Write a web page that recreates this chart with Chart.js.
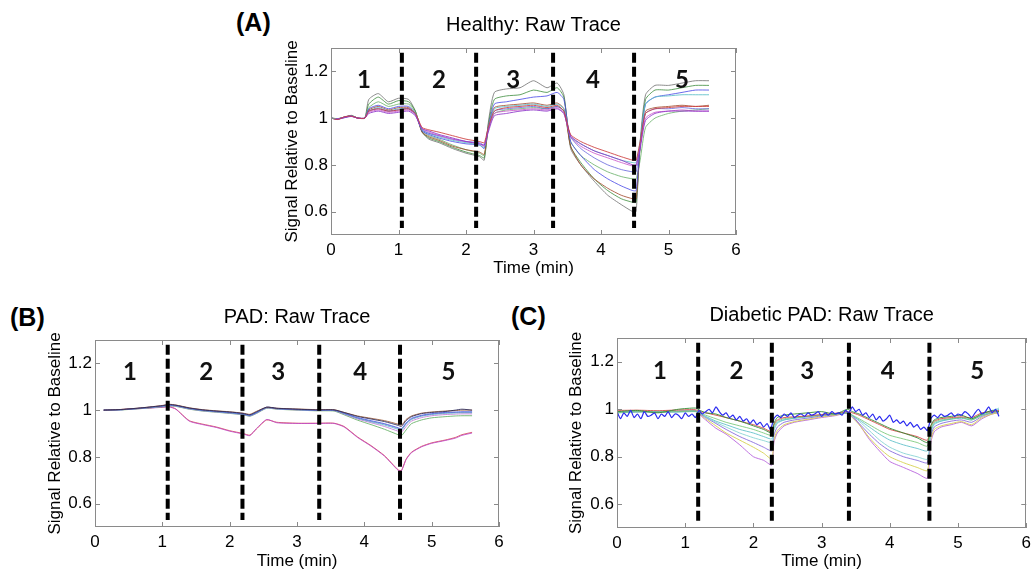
<!DOCTYPE html>
<html>
<head>
<meta charset="utf-8">
<script src="https://cdn.jsdelivr.net/npm/chart.js@4/dist/chart.umd.min.js"></script>
<style>
html, body { margin: 0; padding: 0; background: #fff; width: 1036px; height: 569px; overflow: hidden; }
canvas { position: absolute; }
.tag { position: absolute; font: 700 25px 'Liberation Sans', Arial, sans-serif; color: #000; line-height: 25px; }
</style>
</head>
<body>
<div class="tag" style="left:236px;top:10px">(A)</div>
<div class="tag" style="left:10px;top:305px">(B)</div>
<div class="tag" style="left:511px;top:304px">(C)</div>
<canvas id="chartA" width="470" height="282" style="left:278px;top:0px"></canvas>
<canvas id="chartB" width="470" height="285" style="left:41px;top:290px"></canvas>
<canvas id="chartC" width="474" height="285" style="left:562px;top:290px"></canvas>
<script>
// shared axis settings
const yTicks = [0.6, 0.8, 1, 1.2];
const regionNames = ['1', '2', '3', '4', '5'];
const dashTop = 1.28;
const dashBottom = 0.53;

// ---- (A) Healthy ----
const timeA = [0, 0.1, 0.2, 0.3, 0.4, 0.5, 0.56, 0.7, 0.85, 1.0, 1.15, 1.25, 1.35, 1.45, 1.6, 1.8, 2.0, 2.2, 2.27, 2.33, 2.42, 2.6, 2.8, 3.0, 3.2, 3.35, 3.45, 3.55, 3.7, 3.9, 4.1, 4.3, 4.47, 4.52, 4.58, 4.66, 4.8, 5.0, 5.2, 5.4, 5.6];
const healthyGray = [1.0, 0.995, 1.005, 1.01, 1.0, 1.0, 1.08, 1.105, 1.07, 1.085, 1.08, 1.03, 0.94, 0.91, 0.895, 0.87, 0.85, 0.835, 0.82, 0.98, 1.11, 1.125, 1.13, 1.16, 1.13, 1.15, 1.1, 0.87, 0.8, 0.73, 0.67, 0.63, 0.6, 0.6, 0.9, 1.1, 1.14, 1.14, 1.15, 1.16, 1.16];
const healthyGreen = [1.0, 0.998, 1.003, 1.012, 1.0, 1.0, 1.06, 1.09, 1.06, 1.075, 1.07, 1.03, 0.94, 0.915, 0.9, 0.875, 0.855, 0.84, 0.83, 0.97, 1.08, 1.095, 1.1, 1.12, 1.11, 1.13, 1.09, 0.88, 0.81, 0.74, 0.69, 0.655, 0.64, 0.64, 0.88, 1.08, 1.12, 1.12, 1.13, 1.14, 1.14];
const healthyBlue = [1.0, 0.997, 1.004, 1.008, 1.0, 1.0, 1.04, 1.055, 1.04, 1.05, 1.05, 1.02, 0.945, 0.93, 0.915, 0.9, 0.89, 0.885, 0.87, 0.96, 1.06, 1.07, 1.08, 1.09, 1.095, 1.11, 1.08, 0.9, 0.84, 0.78, 0.74, 0.71, 0.69, 0.69, 0.88, 1.06, 1.09, 1.1, 1.11, 1.12, 1.12];
const healthyCyan = [1.0, 0.996, 1.002, 1.01, 1.0, 1.0, 1.03, 1.045, 1.03, 1.04, 1.04, 1.02, 0.95, 0.935, 0.92, 0.905, 0.895, 0.885, 0.875, 0.96, 1.04, 1.05, 1.055, 1.06, 1.05, 1.06, 1.04, 0.92, 0.89, 0.86, 0.84, 0.82, 0.81, 0.81, 0.9, 1.06, 1.09, 1.095, 1.1, 1.1, 1.1];
const healthyRed = [1.0, 0.994, 1.006, 1.009, 1.0, 1.0, 1.03, 1.04, 1.03, 1.035, 1.04, 1.02, 0.96, 0.95, 0.94, 0.925, 0.91, 0.9, 0.895, 0.96, 1.03, 1.045, 1.05, 1.055, 1.045, 1.055, 1.03, 0.93, 0.9, 0.875, 0.855, 0.835, 0.82, 0.82, 0.9, 1.02, 1.04, 1.045, 1.05, 1.05, 1.05];
const healthyBrown = [1.0, 0.997, 1.004, 1.01, 1.0, 1.0, 1.035, 1.05, 1.035, 1.045, 1.045, 1.02, 0.94, 0.92, 0.905, 0.88, 0.865, 0.855, 0.845, 0.96, 1.045, 1.055, 1.06, 1.065, 1.055, 1.065, 1.04, 0.88, 0.8, 0.74, 0.7, 0.67, 0.655, 0.655, 0.88, 1.03, 1.045, 1.05, 1.055, 1.05, 1.055];
const healthyMagenta = [1.0, 0.996, 1.003, 1.008, 1.0, 1.0, 1.025, 1.035, 1.025, 1.03, 1.035, 1.015, 0.955, 0.94, 0.925, 0.91, 0.9, 0.89, 0.88, 0.95, 1.02, 1.03, 1.035, 1.04, 1.035, 1.045, 1.02, 0.92, 0.88, 0.85, 0.83, 0.81, 0.795, 0.795, 0.88, 1.0, 1.025, 1.03, 1.035, 1.03, 1.03];
const healthyPurple = [1.0, 0.995, 1.002, 1.007, 1.0, 1.0, 1.02, 1.03, 1.02, 1.025, 1.03, 1.01, 0.955, 0.945, 0.93, 0.915, 0.9, 0.89, 0.885, 0.94, 1.01, 1.02, 1.03, 1.035, 1.03, 1.04, 1.02, 0.925, 0.89, 0.86, 0.84, 0.82, 0.8, 0.8, 0.87, 0.99, 1.02, 1.03, 1.03, 1.03, 1.03];
const healthyLightGreen = [1.0, 0.998, 1.004, 1.01, 1.0, 1.0, 1.045, 1.07, 1.05, 1.06, 1.06, 1.025, 0.945, 0.925, 0.91, 0.885, 0.865, 0.85, 0.84, 0.95, 1.02, 1.035, 1.04, 1.045, 1.04, 1.05, 1.03, 0.9, 0.84, 0.8, 0.77, 0.75, 0.74, 0.74, 0.82, 0.96, 1.0, 1.02, 1.03, 1.035, 1.04];
const healthySlate = [1.0, 0.996, 1.005, 1.01, 1.0, 1.0, 1.03, 1.04, 1.03, 1.035, 1.04, 1.015, 0.95, 0.935, 0.925, 0.91, 0.9, 0.895, 0.885, 0.95, 1.03, 1.04, 1.045, 1.05, 1.04, 1.05, 1.03, 0.92, 0.87, 0.83, 0.8, 0.78, 0.77, 0.77, 0.88, 1.02, 1.04, 1.04, 1.045, 1.04, 1.04];
const dashA = [1.05, 2.15, 3.29, 4.49];
const regionXA = [0.49, 1.6, 2.7, 3.88, 5.2];

// ---- (B) PAD ----
const timeB = [0.13, 0.4, 0.7, 1.0, 1.1, 1.2, 1.4, 1.6, 1.8, 2.0, 2.2, 2.3, 2.4, 2.55, 2.7, 3.0, 3.3, 3.55, 3.7, 3.9, 4.1, 4.3, 4.5, 4.55, 4.62, 4.7, 4.85, 5.0, 5.2, 5.35, 5.45, 5.6];
const padBrown = [1.0, 1.003, 1.01, 1.02, 1.025, 1.022, 1.01, 1.002, 0.997, 0.993, 0.987, 0.982, 0.995, 1.012, 1.008, 1.005, 1.002, 1.002, 0.99, 0.975, 0.965, 0.955, 0.94, 0.935, 0.96, 0.975, 0.987, 0.992, 0.996, 0.998, 1.0, 1.0];
const padNavy = [1.0, 1.003, 1.01, 1.019, 1.024, 1.021, 1.009, 1.001, 0.996, 0.992, 0.986, 0.98, 0.993, 1.013, 1.008, 1.004, 1.001, 1.001, 0.99, 0.973, 0.962, 0.951, 0.935, 0.93, 0.955, 0.972, 0.985, 0.99, 0.994, 1.0, 1.004, 1.0];
const padBlue = [1.0, 1.002, 1.009, 1.018, 1.022, 1.02, 1.008, 1.0, 0.995, 0.99, 0.984, 0.978, 0.99, 1.012, 1.007, 1.003, 1.0, 1.0, 0.987, 0.968, 0.955, 0.942, 0.925, 0.92, 0.945, 0.965, 0.978, 0.985, 0.99, 0.992, 0.993, 0.993];
const padCyan = [1.0, 1.002, 1.008, 1.016, 1.02, 1.018, 1.006, 0.998, 0.993, 0.988, 0.982, 0.976, 0.988, 1.01, 1.006, 1.002, 0.999, 0.999, 0.985, 0.965, 0.95, 0.936, 0.918, 0.913, 0.94, 0.96, 0.974, 0.981, 0.986, 0.988, 0.989, 0.989];
const padViolet = [1.0, 1.002, 1.008, 1.015, 1.019, 1.017, 1.005, 0.997, 0.992, 0.987, 0.981, 0.975, 0.987, 1.009, 1.005, 1.001, 0.998, 0.998, 0.983, 0.962, 0.946, 0.93, 0.91, 0.905, 0.93, 0.953, 0.968, 0.976, 0.981, 0.983, 0.984, 0.984];
const padGreen = [1.0, 1.001, 1.007, 1.014, 1.018, 1.016, 1.004, 0.996, 0.991, 0.986, 0.98, 0.974, 0.986, 1.008, 1.004, 1.0, 0.997, 0.996, 0.98, 0.957, 0.938, 0.918, 0.895, 0.89, 0.915, 0.942, 0.958, 0.967, 0.972, 0.975, 0.976, 0.976];
const padSteel = [1.0, 1.002, 1.009, 1.017, 1.021, 1.019, 1.007, 0.999, 0.994, 0.989, 0.983, 0.977, 0.989, 1.011, 1.006, 1.002, 0.999, 0.999, 0.986, 0.966, 0.952, 0.94, 0.922, 0.917, 0.942, 0.962, 0.976, 0.983, 0.988, 0.99, 0.991, 0.991];
const padLowRed = [1.0, 1.003, 1.008, 1.013, 1.015, 1.005, 0.955, 0.94, 0.928, 0.912, 0.9, 0.893, 0.92, 0.958, 0.948, 0.944, 0.944, 0.944, 0.93, 0.885, 0.848, 0.805, 0.745, 0.742, 0.79, 0.82, 0.845, 0.86, 0.872, 0.883, 0.895, 0.905];
const padLowMagenta = [1.0, 1.002, 1.007, 1.012, 1.014, 1.004, 0.953, 0.938, 0.926, 0.91, 0.898, 0.891, 0.922, 0.96, 0.946, 0.943, 0.943, 0.943, 0.928, 0.883, 0.846, 0.803, 0.743, 0.74, 0.788, 0.818, 0.843, 0.858, 0.87, 0.88, 0.892, 0.902];
const dashB = [1.08, 2.19, 3.33, 4.53];
const regionXB = [0.52, 1.65, 2.72, 3.94, 5.25];

// ---- (C) Diabetic PAD ----
const timeC = [0, 0.3, 0.6, 0.9, 1.15, 1.22, 1.3, 1.45, 1.6, 1.8, 2.0, 2.15, 2.27, 2.3, 2.35, 2.45, 2.6, 2.8, 3.0, 3.2, 3.38, 3.45, 3.55, 3.7, 3.85, 4.0, 4.2, 4.4, 4.55, 4.6, 4.65, 4.75, 4.9, 5.05, 5.2, 5.35, 5.5, 5.6];
const diabRed = [0.995, 0.996, 0.994, 0.997, 0.998, 0.99, 0.985, 0.975, 0.965, 0.95, 0.935, 0.92, 0.905, 0.935, 0.955, 0.965, 0.968, 0.972, 0.978, 0.983, 0.99, 0.985, 0.975, 0.955, 0.935, 0.915, 0.9, 0.885, 0.87, 0.93, 0.95, 0.96, 0.965, 0.968, 0.965, 0.985, 0.99, 0.995];
const diabGreen = [0.99, 0.995, 0.985, 1.0, 1.005, 0.995, 0.985, 0.98, 0.965, 0.95, 0.93, 0.915, 0.9, 0.94, 0.965, 0.975, 0.98, 0.985, 0.99, 0.98, 1.0, 0.99, 0.98, 0.96, 0.94, 0.92, 0.9, 0.88, 0.86, 0.93, 0.955, 0.965, 0.97, 0.975, 0.96, 0.98, 0.995, 0.99];
const diabLightGreen = [0.985, 0.99, 0.988, 0.99, 0.992, 0.985, 0.975, 0.96, 0.945, 0.93, 0.915, 0.9, 0.89, 0.93, 0.95, 0.96, 0.965, 0.97, 0.975, 0.98, 0.985, 0.975, 0.96, 0.935, 0.91, 0.89, 0.875, 0.86, 0.845, 0.92, 0.945, 0.955, 0.96, 0.965, 0.955, 0.975, 0.985, 0.99];
const diabCyan = [0.985, 0.988, 0.99, 0.988, 0.99, 0.982, 0.97, 0.95, 0.935, 0.915, 0.9, 0.885, 0.875, 0.92, 0.945, 0.955, 0.962, 0.968, 0.975, 0.98, 0.985, 0.972, 0.955, 0.925, 0.895, 0.87, 0.85, 0.835, 0.825, 0.91, 0.94, 0.95, 0.958, 0.962, 0.955, 0.975, 0.99, 1.0];
const diabTeal = [0.99, 0.992, 0.99, 0.993, 0.995, 0.985, 0.968, 0.945, 0.925, 0.9, 0.88, 0.868, 0.86, 0.91, 0.94, 0.955, 0.962, 0.97, 0.976, 0.98, 0.99, 0.975, 0.95, 0.91, 0.87, 0.84, 0.815, 0.8, 0.79, 0.9, 0.935, 0.95, 0.96, 0.965, 0.96, 0.98, 0.995, 1.005];
const diabPurple = [0.99, 0.99, 0.988, 0.99, 0.992, 0.98, 0.965, 0.94, 0.915, 0.885, 0.86, 0.84, 0.825, 0.89, 0.925, 0.945, 0.955, 0.963, 0.972, 0.978, 0.985, 0.968, 0.94, 0.895, 0.855, 0.825, 0.8, 0.785, 0.775, 0.89, 0.925, 0.94, 0.95, 0.955, 0.945, 0.97, 0.985, 0.99];
const diabYellow = [0.99, 0.99, 0.99, 0.992, 0.993, 0.978, 0.96, 0.93, 0.9, 0.87, 0.84, 0.815, 0.79, 0.87, 0.91, 0.935, 0.948, 0.958, 0.968, 0.975, 0.985, 0.965, 0.935, 0.88, 0.835, 0.8, 0.775, 0.755, 0.742, 0.87, 0.915, 0.93, 0.94, 0.948, 0.935, 0.965, 0.98, 0.985];
const diabViolet = [0.99, 0.99, 0.99, 0.993, 0.994, 0.975, 0.955, 0.92, 0.895, 0.85, 0.8, 0.785, 0.765, 0.86, 0.9, 0.93, 0.945, 0.955, 0.965, 0.973, 0.985, 0.975, 0.937, 0.873, 0.824, 0.78, 0.755, 0.73, 0.71, 0.86, 0.905, 0.925, 0.935, 0.945, 0.93, 0.96, 0.98, 0.985];
// the noisy blue trace is sampled more finely
const timeCFine = [0, 0.05, 0.1, 0.15, 0.2, 0.25, 0.3, 0.35, 0.4, 0.45, 0.5, 0.55, 0.6, 0.65, 0.7, 0.75, 0.8, 0.85, 0.9, 0.95, 1.0, 1.05, 1.1, 1.15, 1.2, 1.25, 1.3, 1.35, 1.4, 1.45, 1.5, 1.55, 1.6, 1.65, 1.7, 1.75, 1.8, 1.85, 1.9, 1.95, 2.0, 2.05, 2.1, 2.15, 2.2, 2.25, 2.3, 2.35, 2.4, 2.45, 2.5, 2.55, 2.6, 2.65, 2.7, 2.75, 2.8, 2.85, 2.9, 2.95, 3.0, 3.05, 3.1, 3.15, 3.2, 3.25, 3.3, 3.35, 3.4, 3.45, 3.5, 3.55, 3.6, 3.65, 3.7, 3.75, 3.8, 3.85, 3.9, 3.95, 4.0, 4.05, 4.1, 4.15, 4.2, 4.25, 4.3, 4.35, 4.4, 4.45, 4.5, 4.55, 4.6, 4.65, 4.7, 4.75, 4.8, 4.85, 4.9, 4.95, 5.0, 5.05, 5.1, 5.15, 5.2, 5.25, 5.3, 5.35, 5.4, 5.45, 5.5, 5.55, 5.6];
const diabBlueNoisy = [
  0.99, 0.96, 0.985, 0.97, 0.995, 0.965, 0.98, 0.96, 0.99, 0.97, 0.975, 0.985, 0.96, 0.98, 0.97, 0.99, 0.965, 0.98, 0.975, 0.96, 0.985, 0.97, 0.98, 0.965,
  0.995, 0.98, 0.99, 1.0, 0.985, 1.01, 0.99,
  0.975, 0.985, 0.965, 0.975, 0.955, 0.97, 0.95, 0.96, 0.94, 0.955, 0.935, 0.945, 0.925, 0.94, 0.915,
  0.96, 0.975, 0.965, 0.98, 0.97, 0.985, 0.965, 0.975, 0.98, 0.97, 0.985, 0.975, 0.98, 0.99, 0.97, 0.985, 0.975, 0.99, 0.98, 0.985, 0.975, 0.995, 0.985,
  1.01, 0.99, 1.0, 0.975, 0.985, 0.965, 0.98, 0.955, 0.97, 0.95, 0.96, 0.975, 0.945, 0.955, 0.94, 0.95, 0.93, 0.945, 0.925, 0.935, 0.915, 0.925, 0.91,
  0.96, 0.975, 0.965, 0.98, 0.97, 0.975, 0.985, 0.97, 0.98, 0.975, 0.99, 0.98, 0.965, 0.985, 1.0, 0.98, 0.99, 1.01, 0.985, 1.0, 0.97
];
const dashC = [1.19, 2.27, 3.4, 4.58];
const regionXC = [0.63, 1.75, 2.79, 3.97, 5.28];
const regionY = 1.16;

const tickFont = { family: "'Liberation Sans', Arial, sans-serif", size: 17 };

// box around the plot with inward ticks, plus the bold region numbers
const framePlugin = {
    id: 'frame',
    afterDatasetsDraw(chart, args, opts) {
        const { ctx, chartArea: a, scales: { x, y } } = chart;
        ctx.save();
        ctx.strokeStyle = '#8a8a8a';
        ctx.lineWidth = 1;
        ctx.strokeRect(Math.round(a.left) + 0.5, Math.round(a.top) + 0.5, Math.round(a.width) - 1, Math.round(a.height) - 1);
        ctx.beginPath();
        x.ticks.forEach(t => {
            const px = Math.round(x.getPixelForValue(t.value)) + 0.5;
            ctx.moveTo(px, a.bottom); ctx.lineTo(px, a.bottom - 5);
            ctx.moveTo(px, a.top); ctx.lineTo(px, a.top + 5);
        });
        y.ticks.forEach(t => {
            const py = Math.round(y.getPixelForValue(t.value)) + 0.5;
            ctx.moveTo(a.left, py); ctx.lineTo(a.left + 5, py);
            ctx.moveTo(a.right, py); ctx.lineTo(a.right - 5, py);
        });
        ctx.stroke();
        ctx.fillStyle = '#111';
        ctx.font = "bold 24px Lato, 'Open Sans', sans-serif";
        ctx.textAlign = 'center';
        ctx.textBaseline = 'middle';
        opts.names.forEach((s, i) => {
            ctx.fillText(s, x.getPixelForValue(opts.xs[i]), y.getPixelForValue(regionY));
        });
        ctx.restore();
    }
};

function makePanel(id, p) {
    const datasets = [];
    p.dashes.forEach(v => {
        datasets.push({
            data: [{ x: v, y: dashTop }, { x: v, y: dashBottom }],
            borderColor: '#000', borderWidth: 4, borderDash: [10, 4],
            pointRadius: 0, order: -1
        });
    });
    p.series.forEach(s => {
        datasets.push({
            data: s.ys.map((v, i) => ({ x: s.xs[i], y: v })),
            borderColor: s.color, borderWidth: s.width || 1,
            pointRadius: 0, tension: 0.2
        });
    });
    return new Chart(document.getElementById(id), {
        type: 'line',
        data: { datasets },
        plugins: [framePlugin],
        options: {
            responsive: false,
            animation: false,
            layout: { padding: { left: 0, right: p.padRight, top: 0, bottom: 0 } },
            plugins: {
                legend: { display: false },
                tooltip: { enabled: false },
                title: {
                    display: true, text: p.title, fullSize: false, color: '#000',
                    font: { family: tickFont.family, size: 20, weight: 'normal' },
                    padding: { top: p.titleTop, bottom: p.titleBottom }
                },
                frame: { names: regionNames, xs: p.regionX }
            },
            scales: {
                x: {
                    type: 'linear', min: 0, max: 6,
                    grid: { display: false, drawTicks: false }, border: { display: false },
                    ticks: { stepSize: 1, color: '#000', font: tickFont, padding: 5, maxRotation: 0 },
                    title: { display: true, text: 'Time (min)', color: '#000', font: tickFont, padding: { top: 0, bottom: 3 } },
                    afterFit(scale) { scale.height = p.xAxisHeight; }
                },
                y: {
                    min: 0.5, max: 1.3,
                    grid: { display: false, drawTicks: false }, border: { display: false },
                    afterBuildTicks(scale) { scale.ticks = yTicks.map(v => ({ value: v })); },
                    ticks: { color: '#000', font: tickFont, padding: 3, callback: v => String(v) },
                    title: { display: true, text: 'Signal Relative to Baseline', color: '#000', font: tickFont, padding: { top: 4, bottom: 0 } },
                    afterFit(scale) { scale.width = p.yAxisWidth; }
                }
            }
        }
    });
}

makePanel('chartA', {
    title: 'Healthy: Raw Trace', titleTop: 13, titleBottom: 11,
    yAxisWidth: 53, xAxisHeight: 47, padRight: 12,
    dashes: dashA, regionX: regionXA,
    series: [
        { xs: timeA, ys: healthyRed, color: 'rgba(205,60,60,0.85)' },
        { xs: timeA, ys: healthyPurple, color: 'rgba(140,50,200,0.85)' },
        { xs: timeA, ys: healthyMagenta, color: 'rgba(200,80,200,0.8)' },
        { xs: timeA, ys: healthySlate, color: 'rgba(100,100,220,0.8)' },
        { xs: timeA, ys: healthyCyan, color: 'rgba(90,190,200,0.85)' },
        { xs: timeA, ys: healthyBlue, color: 'rgba(70,70,230,0.8)' },
        { xs: timeA, ys: healthyBrown, color: 'rgba(160,70,40,0.8)' },
        { xs: timeA, ys: healthyLightGreen, color: 'rgba(110,180,110,0.85)' },
        { xs: timeA, ys: healthyGreen, color: 'rgba(60,140,60,0.8)' },
        { xs: timeA, ys: healthyGray, color: 'rgba(120,120,120,0.85)' }
    ]
});

makePanel('chartB', {
    title: 'PAD: Raw Trace', titleTop: 15, titleBottom: 11,
    yAxisWidth: 54, xAxisHeight: 48, padRight: 12,
    dashes: dashB, regionX: regionXB,
    series: [
        { xs: timeB, ys: padNavy, color: 'rgba(40,40,90,0.85)' },
        { xs: timeB, ys: padBrown, color: 'rgba(150,80,40,0.8)' },
        { xs: timeB, ys: padBlue, color: 'rgba(70,90,230,0.8)' },
        { xs: timeB, ys: padSteel, color: 'rgba(120,140,200,0.8)' },
        { xs: timeB, ys: padCyan, color: 'rgba(90,190,200,0.8)' },
        { xs: timeB, ys: padViolet, color: 'rgba(190,110,210,0.8)' },
        { xs: timeB, ys: padGreen, color: 'rgba(90,170,90,0.8)' },
        { xs: timeB, ys: padLowMagenta, color: 'rgba(190,70,200,0.85)' },
        { xs: timeB, ys: padLowRed, color: 'rgba(215,80,80,0.85)' }
    ]
});

makePanel('chartC', {
    title: 'Diabetic PAD: Raw Trace', titleTop: 13, titleBottom: 11,
    yAxisWidth: 55, xAxisHeight: 47, padRight: 6,
    dashes: dashC, regionX: regionXC,
    series: [
        { xs: timeCFine, ys: diabBlueNoisy, color: '#2a2af0', width: 1.2 },
        { xs: timeC, ys: diabGreen, color: 'rgba(50,140,50,0.9)' },
        { xs: timeC, ys: diabRed, color: 'rgba(210,60,60,0.85)' },
        { xs: timeC, ys: diabLightGreen, color: 'rgba(120,200,120,0.85)' },
        { xs: timeC, ys: diabCyan, color: 'rgba(90,190,200,0.85)' },
        { xs: timeC, ys: diabTeal, color: 'rgba(130,210,210,0.85)' },
        { xs: timeC, ys: diabPurple, color: 'rgba(130,100,220,0.85)' },
        { xs: timeC, ys: diabYellow, color: 'rgba(215,210,80,0.9)' },
        { xs: timeC, ys: diabViolet, color: 'rgba(180,90,220,0.85)' }
    ]
});
</script>
</body>
</html>
